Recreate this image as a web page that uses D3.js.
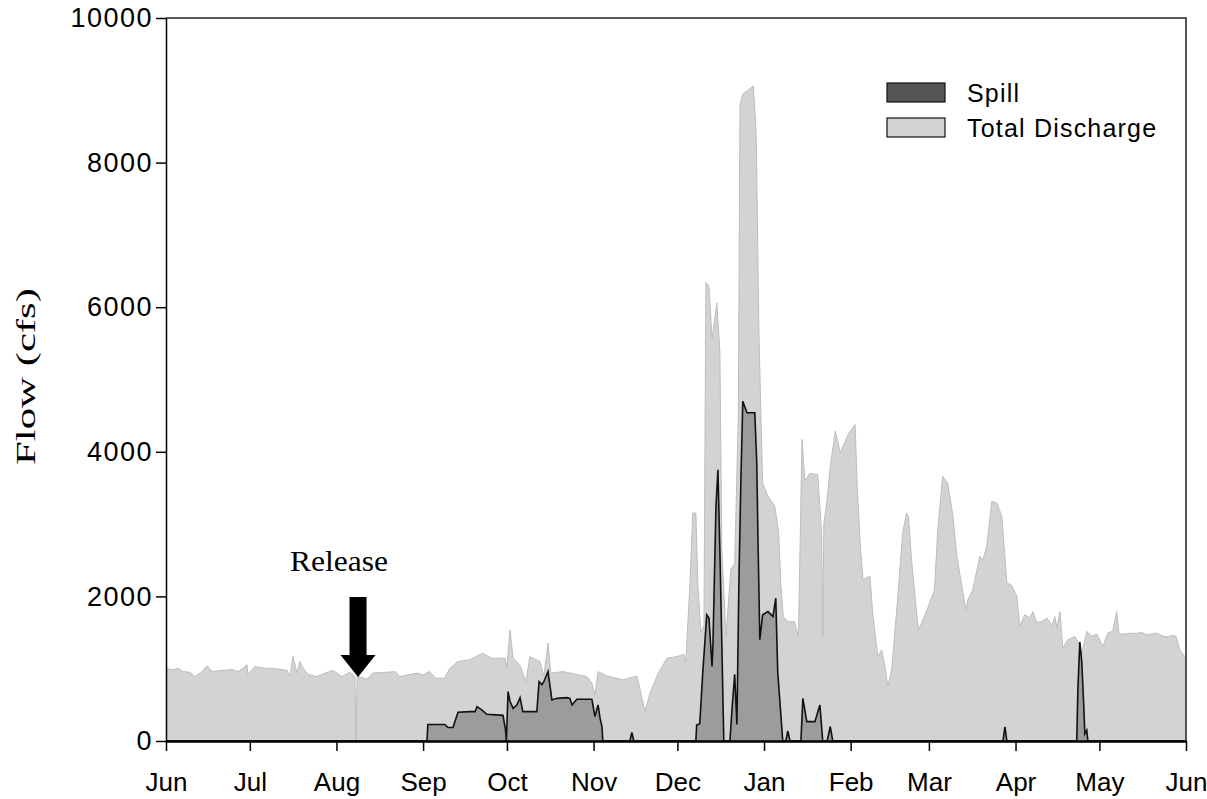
<!DOCTYPE html>
<html>
<head>
<meta charset="utf-8">
<script src="https://cdn.jsdelivr.net/npm/d3@7"></script>
<style>
  body { margin: 0; background: #fff; }
  svg { display: block; }
</style>
</head>
<body>
<div id="chart"></div>
<script>
// Day offsets from 1 June and flow (cfs).
const dischargeDay = [0, 2.5, 4.3, 6, 8.6, 10.4, 12.9, 14.7, 16.5, 18.6, 21.1, 23.6, 25.8, 27.5, 29, 29.3, 31.8, 34.7, 39, 43.3,
  44.4, 45.4, 46.2, 46.9, 47.9, 49, 50.8, 54, 56.9, 59.7, 63, 65.8, 67.6, 68, 68.4, 71.9, 74, 79, 82, 83.7,
  86.6, 89.8, 92, 94.3, 96.5, 99.7, 101.5, 104.4, 108.6, 113.3, 116.6, 121.3, 122, 123.1, 124.2, 126.6, 128.8, 130.2, 133.8, 135.2,
  136.7, 137.7, 142, 147, 150.6, 152.4, 153.5, 154.6, 157.8, 163.5, 168.5, 168.9, 171.4, 173.2, 176.1, 179.3, 182.9, 185.3, 186, 187.5,
  188.5, 189.6, 190.3, 191.4, 192.5, 193.2, 194.3, 195.4, 197.1, 198.2, 198.9, 200.4, 202.1, 203.5, 204.8, 205.4, 206.4, 208.2, 210.2, 211.2,
  212.2, 213.5, 215.2, 217.8, 219.2, 220, 220.9, 222.6, 224.9, 226.3, 227.6, 228.6, 230.4, 233.2, 234.6, 235, 235.4, 236.6, 237.7, 239.5,
  241.3, 243.1, 244.1, 246.6, 247.3, 248.4, 249.4, 251.9, 252.9, 254.7, 256.1, 257.2, 258.3, 259.7, 261.8, 263.6, 265, 265.7, 266.8, 268.6,
  269.3, 272.2, 275, 276.1, 277.9, 279.7, 281.6, 283, 286.2, 286.9, 288.7, 291.2, 292.3, 293.7, 295.5, 297.3, 299.1, 300.9, 302.7, 304.5,
  305.5, 307.3, 309.1, 310.2, 311.6, 313.4, 315.2, 317, 318.1, 318.8, 319.9, 320.9, 322.7, 325.2, 326.3, 327.7, 329.5, 331.3, 333.1, 335.2,
  337, 338.8, 340.2, 341, 343.1, 344.9, 347.4, 349.2, 351, 352.8, 354.6, 356.7, 358.5, 360, 361.4, 362.8, 365];
const dischargeCfs = [1006, 983, 1006, 960, 950, 890, 960, 1040, 960, 970, 980, 990, 960, 1010, 1054, 915, 1030, 1010, 1000, 980,
  890, 1168, 1050, 940, 1099, 1010, 920, 891, 940, 975, 891, 950, 891, 0, 900, 854, 940, 950, 960, 891,
  915, 940, 914, 960, 868, 868, 1000, 1100, 1122, 1214, 1145, 1145, 1030, 1537, 1145, 1053, 822, 1168, 1100, 891,
  1353, 937, 960, 920, 891, 800, 638, 960, 900, 845, 900, 840, 406, 660, 937, 1145, 1168, 1200, 1080, 2184,
  3154, 3154, 2180, 1500, 1600, 6340, 6290, 5560, 6060, 5400, 2645, 1446, 2370, 2450, 4500, 8800, 8950, 9000, 9060, 8400,
  5600, 3570, 3400, 3250, 2900, 2180, 1720, 1650, 1650, 1450, 4170, 3600, 3700, 3685, 2880, 1450, 3000, 3340, 3800, 4285,
  3985, 4150, 4238, 4377, 3570, 2740, 2230, 2280, 1768, 1170, 1260, 1050, 750, 1000, 1952, 2880, 3155, 3100, 2506, 1768,
  1537, 1800, 2092, 2880, 3660, 3570, 3110, 2555, 1815, 1950, 2090, 2555, 2500, 2700, 3315, 3290, 3110, 2185, 2150, 2000,
  1583, 1745, 1700, 1790, 1640, 1650, 1700, 1600, 1720, 1560, 1790, 1283, 1400, 1445, 1375, 1215, 1514, 1450, 1480, 1306,
  1491, 1520, 1790, 1480, 1480, 1490, 1490, 1500, 1470, 1480, 1491, 1450, 1440, 1460, 1450, 1260, 1145];

const spillDay = [0, 93.4, 93.7, 99.8, 100.9, 102.7, 104.5, 108.8, 110.6, 111.3, 113, 114.8, 120.6, 121.5, 121.8, 122.4, 123.1, 124.2, 125.6, 126.7,
  127.7, 132.7, 133.5, 134.5, 135.2, 136.7, 138.1, 139.9, 143.5, 144.5, 145.3, 147, 152.4, 153.5, 154.6, 155.3, 156, 156.3, 166, 166.7,
  167.4, 189.6, 189.9, 191, 192.1, 193.5, 194.3, 195.4, 195.7, 196.8, 197.5, 198.2, 198.9, 199.6, 201.8, 202.5, 203.5, 204.3, 205, 205.7,
  206.4, 207.9, 210.7, 211.4, 211.8, 212.5, 213.5, 215.4, 217.2, 218.2, 218.9, 220.7, 221.8, 222.5, 223.3, 227.2, 227.9, 229.3, 232.2, 234,
  235, 236.6, 237.7, 238.6, 299.5, 300.2, 300.9, 325.9, 326.3, 327, 327.7, 328.4, 328.8, 329.5, 329.9, 365];
const spillCfs = [0, 0, 228, 228, 187, 187, 397, 406, 406, 475, 430, 370, 355, 150, 0, 683, 550, 452, 500, 600,
  406, 406, 822, 780, 820, 960, 568, 590, 600, 590, 498, 577, 577, 337, 500, 320, 200, 0, 0, 120,
  0, 0, 221, 240, 960, 1745, 1700, 1030, 1300, 3245, 3750, 2645, 1353, 0, 0, 416, 923, 230, 2184, 3570,
  4700, 4540, 4540, 3845, 2875, 1400, 1745, 1790, 1720, 1975, 960, 0, 0, 138, 0, 0, 591, 268, 268, 498,
  0, 0, 200, 0, 0, 195, 0, 0, 700, 1370, 1100, 500, 100, 150, 0, 0];

const yTicks = [0, 2000, 4000, 6000, 8000, 10000];
const releaseDay = 68;
const legendItems = [
  { label: "Spill", fill: "#555555" },
  { label: "Total Discharge", fill: "#d3d3d3" }
];

const width = 1207, height = 799;
const margin = { top: 18, right: 21, bottom: 58, left: 166 };
const innerW = width - margin.left - margin.right;
const innerH = height - margin.top - margin.bottom;

const start = new Date(Date.UTC(2018, 5, 1));
const end = new Date(Date.UTC(2019, 5, 1));
const toDate = d => new Date(start.getTime() + d * 864e5);

const svg = d3.select("#chart").append("svg")
  .attr("width", width)
  .attr("height", height);

const g = svg.append("g")
  .attr("transform", `translate(${margin.left},${margin.top})`);

const x = d3.scaleUtc().domain([start, end]).range([0, innerW]);
const y = d3.scaleLinear().domain([0, 10000]).range([innerH, 0]);

const discharge = dischargeDay.map((d, i) => ({ date: toDate(d), v: dischargeCfs[i] }));
const spill = spillDay.map((d, i) => ({ date: toDate(d), v: spillCfs[i] }));

const area = d3.area()
  .x(d => x(d.date))
  .y0(y(0))
  .y1(d => y(d.v));
const line = d3.line()
  .x(d => x(d.date))
  .y(d => y(d.v));

// Total discharge
g.append("path")
  .datum(discharge)
  .attr("d", area)
  .attr("fill", "#d3d3d3");
g.append("path")
  .datum(discharge)
  .attr("d", line)
  .attr("fill", "none")
  .attr("stroke", "#bdbdbd")
  .attr("stroke-width", 1);

// Spill
g.append("path")
  .datum(spill)
  .attr("d", area)
  .attr("fill", "#9c9c9c");
g.append("path")
  .datum(spill)
  .attr("d", line)
  .attr("fill", "none")
  .attr("stroke", "#111")
  .attr("stroke-width", 1.6);

// Frame (top and right)
g.append("path")
  .attr("d", `M0,0H${innerW}V${innerH}`)
  .attr("fill", "none")
  .attr("stroke", "#222")
  .attr("stroke-width", 1.5);

// Axes
const xAxis = g.append("g")
  .attr("transform", `translate(0,${innerH})`)
  .call(d3.axisBottom(x)
    .ticks(d3.utcMonth.every(1))
    .tickFormat(d3.utcFormat("%b"))
    .tickSizeInner(10)
    .tickSizeOuter(0)
    .tickPadding(22));

const yAxis = g.append("g")
  .call(d3.axisLeft(y)
    .tickValues(yTicks)
    .tickFormat(d3.format("d"))
    .tickSizeInner(10)
    .tickSizeOuter(0)
    .tickPadding(3));

xAxis.select(".domain").attr("stroke", "#000").attr("stroke-width", 2.5);
yAxis.select(".domain").attr("stroke", "#000").attr("stroke-width", 1.5);
svg.selectAll(".tick line").attr("stroke", "#000").attr("stroke-width", 1.5);
svg.selectAll(".tick text")
  .attr("fill", "#000")
  .style("font-family", "'Liberation Sans', Arial, sans-serif")
  .style("font-size", "27px");
yAxis.selectAll(".tick text").style("letter-spacing", "1.5px");
xAxis.selectAll(".tick text").style("font-size", "26px");

// Y axis title
svg.append("text")
  .attr("transform", `translate(35,${margin.top + innerH / 2 - 3}) rotate(-90)`)
  .attr("text-anchor", "middle")
  .attr("textLength", 177)
  .attr("lengthAdjust", "spacingAndGlyphs")
  .style("font-family", "'Liberation Serif', 'Times New Roman', serif")
  .style("font-size", "28px")
  .text("Flow (cfs)");

// Release arrow
const ax = x(toDate(releaseDay)) + 2;
g.append("rect")
  .attr("x", ax - 8.5).attr("y", 579)
  .attr("width", 17).attr("height", 59)
  .attr("fill", "#000");
g.append("path")
  .attr("d", `M${ax - 17.5},637L${ax + 17.5},637L${ax},659Z`)
  .attr("fill", "#000");
g.append("text")
  .attr("x", ax - 68).attr("y", 553)
  .attr("textLength", 98)
  .attr("lengthAdjust", "spacingAndGlyphs")
  .style("font-family", "'Liberation Serif', 'Times New Roman', serif")
  .style("font-size", "29px")
  .text("Release");

// Legend
const legend = svg.append("g").attr("transform", "translate(887,83)");
legendItems.forEach((it, i) => {
  const row = legend.append("g").attr("transform", `translate(0,${i * 35})`);
  row.append("rect")
    .attr("width", 58).attr("height", 19)
    .attr("fill", it.fill)
    .attr("stroke", "#111")
    .attr("stroke-width", 1.2);
  row.append("text")
    .attr("x", 80).attr("y", 19)
    .style("font-family", "'Liberation Sans', Arial, sans-serif")
    .style("font-size", "25px")
    .style("letter-spacing", "1.2px")
    .text(it.label);
});
</script>
</body>
</html>
